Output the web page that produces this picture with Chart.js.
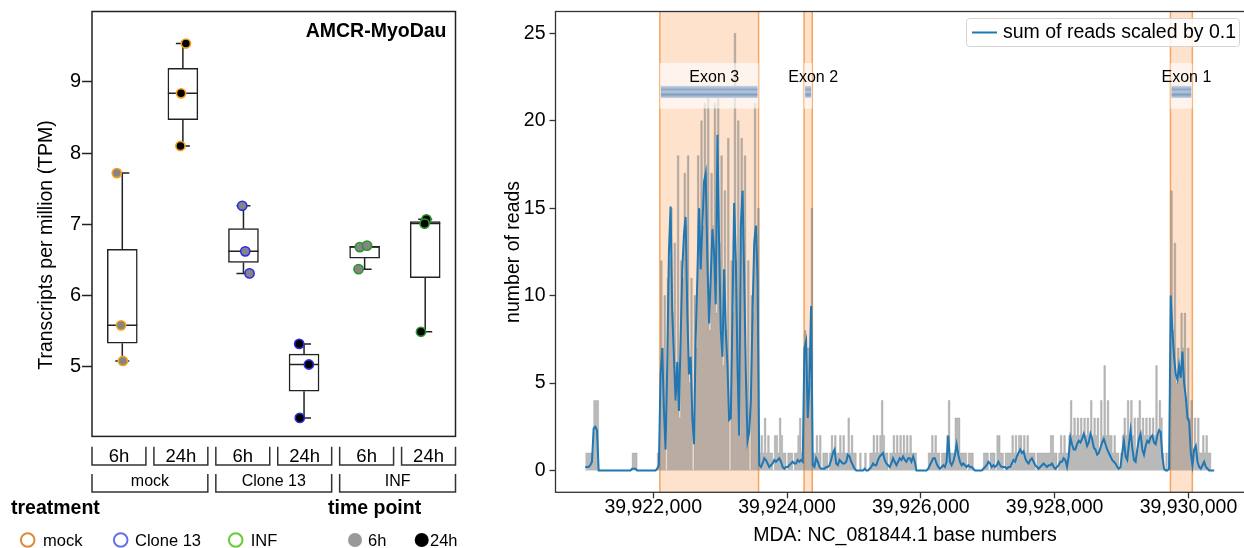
<!DOCTYPE html>
<html>
<head>
<meta charset="utf-8">
<script src="https://cdn.jsdelivr.net/npm/chart.js@4.4.1/dist/chart.umd.min.js"></script>
<style>
    html, body { margin: 0; padding: 0; background: #fff; overflow: hidden; }
    body { width: 1244px; height: 548px; position: relative; }
    #boxCanvas { position: absolute; left: 0; top: 0; }
    #readsCanvas { position: absolute; left: 470px; top: 0; }
</style>
</head>
<body>
<canvas id="boxCanvas" width="470" height="548"></canvas>
<canvas id="readsCanvas" width="790" height="548"></canvas>
<script>
const FONT = "'Liberation Sans', Arial, sans-serif";

// ---- left panel: TPM per treatment / time point ----
const tpmTicks = [5, 6, 7, 8, 9];
const timeLabels = ['6h', '24h', '6h', '24h', '6h', '24h'];
const treatmentLabels = ['mock', 'Clone 13', 'INF'];
const tpmMock6h = [7.72, 5.58, 5.08];
const tpmMock24h = [9.54, 8.84, 8.10];
const tpmClone6h = [7.26, 6.62, 6.31];
const tpmClone24h = [5.32, 5.03, 4.28];
const tpmInf6h = [6.68, 6.70, 6.37];
const tpmInf24h = [7.07, 7.01, 5.49];
const pointJitter = [
    [-0.09, -0.02, 0.01],
    [0.05, -0.03, -0.04],
    [-0.02, 0.03, 0.10],
    [-0.08, 0.08, -0.07],
    [-0.08, 0.04, -0.10],
    [0.02, -0.01, -0.07]
];

// ---- right panel: read coverage ----
const xTickValues = [39922000, 39924000, 39926000, 39928000, 39930000];
const yTickValues = [0, 5, 10, 15, 20, 25];
const readStart = 39920985;
const readStep = 25;
const exonNames = ['Exon 3', 'Exon 2', 'Exon 1'];
const exonStarts = [39922100, 39924256, 39929731];
const exonEnds = [39923575, 39924377, 39930058];

const greyReads = [
    // before exon 3
    1,1,1,1,1,4,4,4,0,
    0,0,0,0,0,0,0,0,0,0,
    0,0,0,0,0,0,0,0,0,
    1,1,1,
    0,0,0,0,0,0,0,0,0,0,0,0,
    1,1,
    // exon 3
    12,7,10,0,11,12,15,9,13,4,
    18,3,12,11,17,14,18,5,11,0,
    10,7,18,15,20,14,21,17,22,8,
    17,14,21,9,22,13,18,6,16,8,
    19,0,12,9,25,12,20,2,19,16,
    18,5,12,0,10,9,21,14,15,
    // between exon 3 and exon 2
    1,2,1,3,1,2,1,1,0,2,
    2,1,3,2,1,1,0,1,1,1,
    0,1,1,2,3,1,2,
    // exon 2
    8,7,7,5,15,
    // intron
    1,1,2,1,2,0,1,1,1,0,
    1,2,1,2,1,1,2,1,2,1,
    1,3,1,2,1,1,0,0,1,0,
    0,1,0,0,1,1,2,1,2,1,
    2,4,2,1,1,0,1,1,2,1,
    2,1,2,1,2,1,2,1,2,1,
    1,1,0,0,0,0,0,0,0,1,
    1,2,1,2,1,1,0,1,1,1,
    2,4,1,1,1,3,3,3,1,1,
    1,1,0,1,1,1,0,0,0,0,
    0,0,1,1,1,0,1,1,1,0,
    2,2,1,1,0,1,1,1,1,2,
    1,2,1,2,2,1,2,1,2,1,
    1,1,1,0,1,1,1,1,1,1,
    1,1,2,2,1,1,0,1,2,1,
    2,1,1,2,4,2,3,2,3,2,
    3,2,3,2,3,2,4,2,3,2,
    3,1,4,2,6,2,4,2,2,1,
    2,1,1,0,1,2,3,2,4,2,
    4,2,3,1,3,4,2,3,2,3,
    2,3,2,3,2,6,2,4,3,1,
    0,1,0,1,
    // exon 1 and tail
    16,8,13,5,7,6,9,7,9,4,
    7,3,4,1,3,1,3,1,1,2,
    1,2,1,1,0,0,0
];

const sumReadsScaled = [
    // before exon 3
    0.2,0.2,0.2,0.3,0.5,2.4,2.5,2.3,0,
    0,0,0,0,0,0,0,0,0,0,
    0,0,0,0,0,0,0,0,0,
    0.1,0.1,0.1,
    0,0,0,0,0,0,0,0,0,0,0,0,
    0.1,0.3,
    // exon 3
    5.5,7.0,3.5,1.2,6.0,12.5,15.1,9.0,6.5,4.0,
    6.2,3.4,7.5,11.5,13.5,14.5,9.0,5.5,6.5,3.0,
    1.5,7.5,11.0,15.0,11.5,14.0,16.5,17.0,12.0,8.4,
    11.0,13.8,12.5,9.5,19.2,13.0,8.0,6.5,11.5,8.0,
    6.0,2.9,3.0,9.0,15.3,12.0,6.0,2.0,14.0,16.0,
    11.0,5.5,1.7,2.2,4.0,9.0,13.0,14.0,11.0,
    // between exon 3 and exon 2
    0.3,0.2,0.4,0.7,0.6,0.4,0.2,0.3,0.4,0.6,
    0.5,0.6,0.7,0.5,0.2,0.1,0.2,0.2,0.3,0.4,
    0.5,0.4,0.4,0.6,0.5,0.6,0.5,
    // exon 2
    7.0,7.4,3.0,5.0,9.4,
    // intron
    0.3,0.2,0.7,0.5,0.2,0.1,0.1,0.1,0.2,0.2,
    0.3,0.6,1.0,1.2,0.4,0.3,0.6,0.5,0.4,0.4,
    0.5,0.9,0.8,0.5,0.3,0.1,0,0,0,0,
    0,0.1,0,0,0.1,0.2,0.4,0.3,0.3,0.6,
    0.8,0.9,1.0,0.6,0.4,0.3,0.2,0.4,0.7,0.5,
    0.3,0.5,0.7,0.6,0.8,0.6,0.5,0.7,0.7,0.5,
    0.8,0.5,0,0,0,0,0,0,0,0.1,
    0.3,0.5,0.7,0.7,0.4,0.2,0.1,0.2,0.3,0.2,
    0.5,2.0,0.5,0.3,0.5,0.9,1.5,0.9,0.5,0.3,
    0.4,0.3,0.2,0.3,0.2,0.2,0.1,0,0,0,
    0,0,0.1,0.2,0.3,0.5,0.4,0.2,0.3,0.2,
    0.3,0.5,0.3,0.2,0.2,0.2,0.1,0.2,0.2,0.4,
    0.6,0.5,0.8,1.0,1.2,1.0,1.1,0.7,0.5,0.4,
    0.6,0.7,0.5,0.3,0.2,0.1,0.2,0.3,0.4,0.3,
    0.2,0.3,0.3,0.4,0.2,0.1,0.2,0.3,0.5,0.5,
    0.7,0.6,0.2,0.8,1.9,1.5,1.2,1.2,1.5,1.7,
    1.6,1.8,2.1,1.8,1.4,1.6,2.1,1.8,1.3,1.2,
    0.9,1.0,1.3,1.6,1.8,1.5,1.2,1.0,0.8,0.6,
    0.5,0.4,0.2,0.1,0.2,1.0,1.7,0.8,0.6,1.5,
    2.3,1.3,0.6,0.5,1.2,1.8,2.1,1.2,0.9,1.4,
    1.7,1.6,1.9,2.0,1.6,1.5,2.0,2.3,2.2,0.8,
    0.1,0,0,0.1,
    // exon 1 and tail
    10.0,8.0,6.5,5.5,5.2,6.0,5.3,6.8,5.0,4.2,
    3.0,2.8,1.0,0.3,1.2,1.4,0.5,0.2,0.1,0.3,
    0.5,0.2,0.1,0,0,0,0
];

// ---------------------------------------------------------------
const groupTpm = [tpmMock6h, tpmMock24h, tpmClone6h, tpmClone24h, tpmInf6h, tpmInf24h];
const groupTreatment = [0, 0, 1, 1, 2, 2];
const groupTime = [0, 1, 0, 1, 0, 1];
const treatmentEdge = ['#f4a21c', '#2b2be6', '#2a962a'];
const legendEdge = ['#e0883a', '#6470ee', '#66cc33'];
const timeFill = ['#858585', '#000000'];

function quantile(sorted, p) {
    const pos = (sorted.length - 1) * p;
    const lo = Math.floor(pos);
    const hi = Math.ceil(pos);
    return sorted[lo] + (sorted[hi] - sorted[lo]) * (pos - lo);
}

const boxStats = groupTpm.map(vals => {
    const s = [...vals].sort((a, b) => a - b);
    return {min: s[0], q1: quantile(s, 0.25), med: quantile(s, 0.5), q3: quantile(s, 0.75), max: s[s.length - 1]};
});

const scatterPoints = [];
const scatterFill = [];
const scatterEdge = [];
groupTpm.forEach((vals, g) => {
    vals.forEach((v, k) => {
        scatterPoints.push({x: g + pointJitter[g][k], y: v});
        scatterFill.push(timeFill[groupTime[g]]);
        scatterEdge.push(treatmentEdge[groupTreatment[g]]);
    });
});

// keep the plot frame where it is, whatever the tick label sizes are
function noScalePadding(scale) {
    scale.paddingTop = 0;
    scale.paddingBottom = 0;
    scale.paddingLeft = 0;
    scale.paddingRight = 0;
}

function drawBracketRow(ctx, left, right, top, bottom, labels, font, textY) {
    const gap = 8;
    const w = (right - left - gap * (labels.length - 1)) / labels.length;
    labels.forEach((label, i) => {
        const x0 = left + i * (w + gap);
        const x1 = x0 + w;
        ctx.beginPath();
        ctx.moveTo(x0, top);
        ctx.lineTo(x0, bottom);
        ctx.lineTo(x1, bottom);
        ctx.lineTo(x1, top);
        ctx.stroke();
        ctx.font = font;
        ctx.fillText(label, (x0 + x1) / 2, textY);
    });
}

const whiskerPlugin = {
    id: 'whiskers',
    afterDatasetDraw(chart, args) {
        if (args.index !== 1) return;
        const {ctx, scales: {x, y}} = chart;
        ctx.save();
        ctx.strokeStyle = '#222';
        ctx.lineWidth = 1.5;
        boxStats.forEach((s, i) => {
            const cx = x.getPixelForValue(i);
            ctx.beginPath();
            ctx.moveTo(cx, y.getPixelForValue(s.max));
            ctx.lineTo(cx, y.getPixelForValue(s.q3));
            ctx.moveTo(cx, y.getPixelForValue(s.q1));
            ctx.lineTo(cx, y.getPixelForValue(s.min));
            ctx.moveTo(cx - 7, y.getPixelForValue(s.max));
            ctx.lineTo(cx + 7, y.getPixelForValue(s.max));
            ctx.moveTo(cx - 7, y.getPixelForValue(s.min));
            ctx.lineTo(cx + 7, y.getPixelForValue(s.min));
            ctx.moveTo(cx - 15, y.getPixelForValue(s.med));
            ctx.lineTo(cx + 15, y.getPixelForValue(s.med));
            ctx.stroke();
        });
        ctx.restore();
    }
};

const boxFramePlugin = {
    id: 'boxFrame',
    afterDraw(chart) {
        const {ctx, chartArea: a} = chart;
        ctx.save();
        ctx.strokeStyle = '#222';
        ctx.lineWidth = 1.5;
        ctx.strokeRect(a.left, a.top, a.right - a.left, a.bottom - a.top);

        ctx.fillStyle = '#000';
        ctx.textBaseline = 'middle';
        ctx.textAlign = 'right';
        ctx.font = 'bold 19.5px ' + FONT;
        ctx.fillText('AMCR-MyoDau', a.right - 9, 31.5);

        // y axis title
        ctx.save();
        ctx.translate(47, 245);
        ctx.rotate(-Math.PI / 2);
        ctx.textAlign = 'center';
        ctx.font = '19.5px ' + FONT;
        ctx.fillText('Transcripts per million (TPM)', 0, 0);
        ctx.restore();

        // nested category labels
        ctx.textAlign = 'center';
        ctx.strokeStyle = '#333';
        ctx.lineWidth = 1.5;
        drawBracketRow(ctx, a.left, a.right, 446.7, 465, timeLabels, '18.5px ' + FONT, 456.5);
        drawBracketRow(ctx, a.left, a.right, 474, 492, treatmentLabels, '16px ' + FONT, 482);

        // legends
        ctx.textAlign = 'left';
        ctx.font = 'bold 19.5px ' + FONT;
        ctx.fillText('treatment', 11, 508.5);
        ctx.fillText('time point', 328, 508.5);

        ctx.font = '16.5px ' + FONT;
        const treatX = [27.7, 120.7, 235.7];
        const treatTextX = [43, 135, 250.7];
        treatmentLabels.forEach((label, i) => {
            ctx.beginPath();
            ctx.arc(treatX[i], 540, 6.8, 0, Math.PI * 2);
            ctx.strokeStyle = legendEdge[i];
            ctx.lineWidth = 2;
            ctx.stroke();
            ctx.fillText(label, treatTextX[i], 541);
        });
        const timeX = [355, 421.7];
        const timeTextX = [368, 430];
        ['6h', '24h'].forEach((label, i) => {
            ctx.beginPath();
            ctx.arc(timeX[i], 540, 7, 0, Math.PI * 2);
            ctx.fillStyle = i === 0 ? '#999999' : '#000000';
            ctx.fill();
            ctx.fillStyle = '#000';
            ctx.fillText(label, timeTextX[i], 541);
        });
        ctx.restore();
    }
};

new Chart(document.getElementById('boxCanvas'), {
    type: 'bar',
    data: {
        datasets: [
            {
                type: 'scatter',
                data: scatterPoints,
                pointRadius: 4.6,
                pointBorderWidth: 1.6,
                pointBackgroundColor: scatterFill,
                pointBorderColor: scatterEdge,
                order: 0
            },
            {
                type: 'bar',
                data: boxStats.map((s, i) => ({x: i, y: [s.q1, s.q3]})),
                backgroundColor: '#ffffff',
                borderColor: '#222',
                borderWidth: 1.5,
                borderSkipped: false,
                barThickness: 30,
                grouped: false,
                order: 1
            }
        ]
    },
    options: {
        responsive: false,
        animation: false,
        events: [],
        layout: {padding: {top: 11.5, right: 14.5, bottom: 111.6, left: 0}},
        plugins: {legend: {display: false}, tooltip: {enabled: false}},
        scales: {
            x: {type: 'linear', min: -0.5, max: 5.5, offset: false, display: false},
            y: {
                min: 4.02,
                max: 9.99,
                afterFit: scale => { scale.width = 92; noScalePadding(scale); },
                afterBuildTicks: scale => { scale.ticks = tpmTicks.map(v => ({value: v})); },
                border: {display: false},
                grid: {drawOnChartArea: false, drawTicks: true, tickLength: 10, tickColor: '#222', tickWidth: 1.5},
                ticks: {padding: 1, color: '#000', font: {size: 20, family: FONT}}
            }
        }
    },
    plugins: [whiskerPlugin, boxFramePlugin]
});

// ---------------------------------------------------------------
const greyPoints = greyReads.map((v, i) => ({x: readStart + i * readStep, y: v}));
const bluePoints = sumReadsScaled.map((v, i) => ({x: readStart + i * readStep, y: v}));

const exonPlugin = {
    id: 'exons',
    beforeDatasetsDraw(chart) {
        const {ctx, chartArea: a, scales: {x}} = chart;
        ctx.save();
        ctx.beginPath();
        ctx.rect(a.left, a.top, a.right - a.left, a.bottom - a.top);
        ctx.clip();
        exonStarts.forEach((start, i) => {
            const x0 = x.getPixelForValue(start);
            const x1 = x.getPixelForValue(exonEnds[i]);
            ctx.fillStyle = 'rgba(252, 180, 120, 0.38)';
            ctx.fillRect(x0, a.top, x1 - x0, a.bottom - a.top);
            ctx.strokeStyle = '#f6a45e';
            ctx.lineWidth = 1.5;
            ctx.beginPath();
            ctx.moveTo(x0, a.top);
            ctx.lineTo(x0, a.bottom);
            ctx.moveTo(x1, a.top);
            ctx.lineTo(x1, a.bottom);
            ctx.stroke();
        });
        ctx.restore();
    },
    afterDatasetsDraw(chart) {
        const {ctx, scales: {x, y}} = chart;
        ctx.save();
        const bandTop = y.getPixelForValue(23.3);
        const bandBottom = y.getPixelForValue(20.7);
        const barTop = y.getPixelForValue(22.0);
        const barBottom = y.getPixelForValue(21.3);
        exonStarts.forEach((start, i) => {
            const x0 = x.getPixelForValue(start);
            const x1 = x.getPixelForValue(exonEnds[i]);
            ctx.fillStyle = 'rgba(255, 255, 255, 0.65)';
            ctx.fillRect(x0, bandTop, x1 - x0, bandBottom - bandTop);
            const grad = ctx.createLinearGradient(0, barTop, 0, barBottom);
            grad.addColorStop(0, '#c9d5e5');
            grad.addColorStop(0.3, '#8ea8c8');
            grad.addColorStop(0.5, '#b9c8dc');
            grad.addColorStop(0.72, '#7f9cc0');
            grad.addColorStop(1, '#c9d5e5');
            ctx.fillStyle = grad;
            ctx.fillRect(x0 + 1, barTop, x1 - x0 - 2, barBottom - barTop);
            ctx.fillStyle = '#000';
            ctx.font = '16px ' + FONT;
            ctx.textAlign = 'center';
            ctx.textBaseline = 'middle';
            ctx.fillText(exonNames[i], (x0 + x1) / 2 + 5, 78);
        });

        // legend
        ctx.fillStyle = 'rgba(255, 255, 255, 0.85)';
        ctx.strokeStyle = '#d4d4d4';
        ctx.lineWidth = 1;
        ctx.beginPath();
        ctx.roundRect(496.5, 18.5, 273, 28, 3);
        ctx.fill();
        ctx.stroke();
        ctx.strokeStyle = '#1f77b4';
        ctx.lineWidth = 2;
        ctx.beginPath();
        ctx.moveTo(502, 32.5);
        ctx.lineTo(527, 32.5);
        ctx.stroke();
        ctx.fillStyle = '#000';
        ctx.font = '19.5px ' + FONT;
        ctx.textAlign = 'left';
        ctx.textBaseline = 'middle';
        ctx.fillText('sum of reads scaled by 0.1', 533, 33);
        ctx.restore();
    },
    afterDraw(chart) {
        const {ctx, chartArea: a} = chart;
        ctx.save();
        ctx.strokeStyle = '#333';
        ctx.lineWidth = 1.3;
        ctx.strokeRect(a.left, a.top, a.right - a.left, a.bottom - a.top);
        ctx.fillStyle = '#000';
        ctx.font = '19.5px ' + FONT;
        ctx.textAlign = 'center';
        ctx.textBaseline = 'middle';
        ctx.fillText('MDA: NC_081844.1 base numbers', 435, 536);
        ctx.translate(44, (a.top + a.bottom) / 2);
        ctx.rotate(-Math.PI / 2);
        ctx.fillText('number of reads', 0, 0);
        ctx.restore();
    }
};

new Chart(document.getElementById('readsCanvas'), {
    type: 'line',
    data: {
        datasets: [
            {
                label: 'sum of reads scaled by 0.1',
                data: bluePoints,
                borderColor: '#1f77b4',
                borderWidth: 2,
                pointRadius: 0,
                tension: 0,
                fill: false,
                order: 0
            },
            {
                label: 'reads',
                data: greyPoints,
                stepped: true,
                borderColor: 'rgba(128, 128, 128, 0.25)',
                backgroundColor: 'rgba(128, 128, 128, 0.55)',
                fill: 'origin',
                borderWidth: 1,
                pointRadius: 0,
                order: 1
            }
        ]
    },
    options: {
        responsive: false,
        animation: false,
        events: [],
        layout: {padding: {top: 11.5, right: 13, bottom: 0, left: 0}},
        plugins: {legend: {display: false}, tooltip: {enabled: false}},
        scales: {
            x: {
                type: 'linear',
                min: 39920540,
                max: 39930875,
                afterFit: scale => { scale.height = 55.7; noScalePadding(scale); },
                afterBuildTicks: scale => { scale.ticks = xTickValues.map(v => ({value: v})); },
                border: {display: false},
                grid: {drawOnChartArea: false, drawTicks: true, tickLength: 6, tickColor: '#333', tickWidth: 1.3},
                ticks: {
                    padding: 0,
                    color: '#000',
                    maxRotation: 0,
                    font: {size: 19.5, family: FONT, lineHeight: 1},
                    callback: v => v.toLocaleString('en-US')
                }
            },
            y: {
                min: -1.25,
                max: 26.25,
                afterFit: scale => { scale.width = 85.5; noScalePadding(scale); },
                afterBuildTicks: scale => { scale.ticks = yTickValues.map(v => ({value: v})); },
                border: {display: false},
                grid: {drawOnChartArea: false, drawTicks: true, tickLength: 6, tickColor: '#333', tickWidth: 1.3},
                ticks: {padding: 4, color: '#000', font: {size: 19.5, family: FONT}}
            }
        }
    },
    plugins: [exonPlugin]
});
</script>
</body>
</html>
